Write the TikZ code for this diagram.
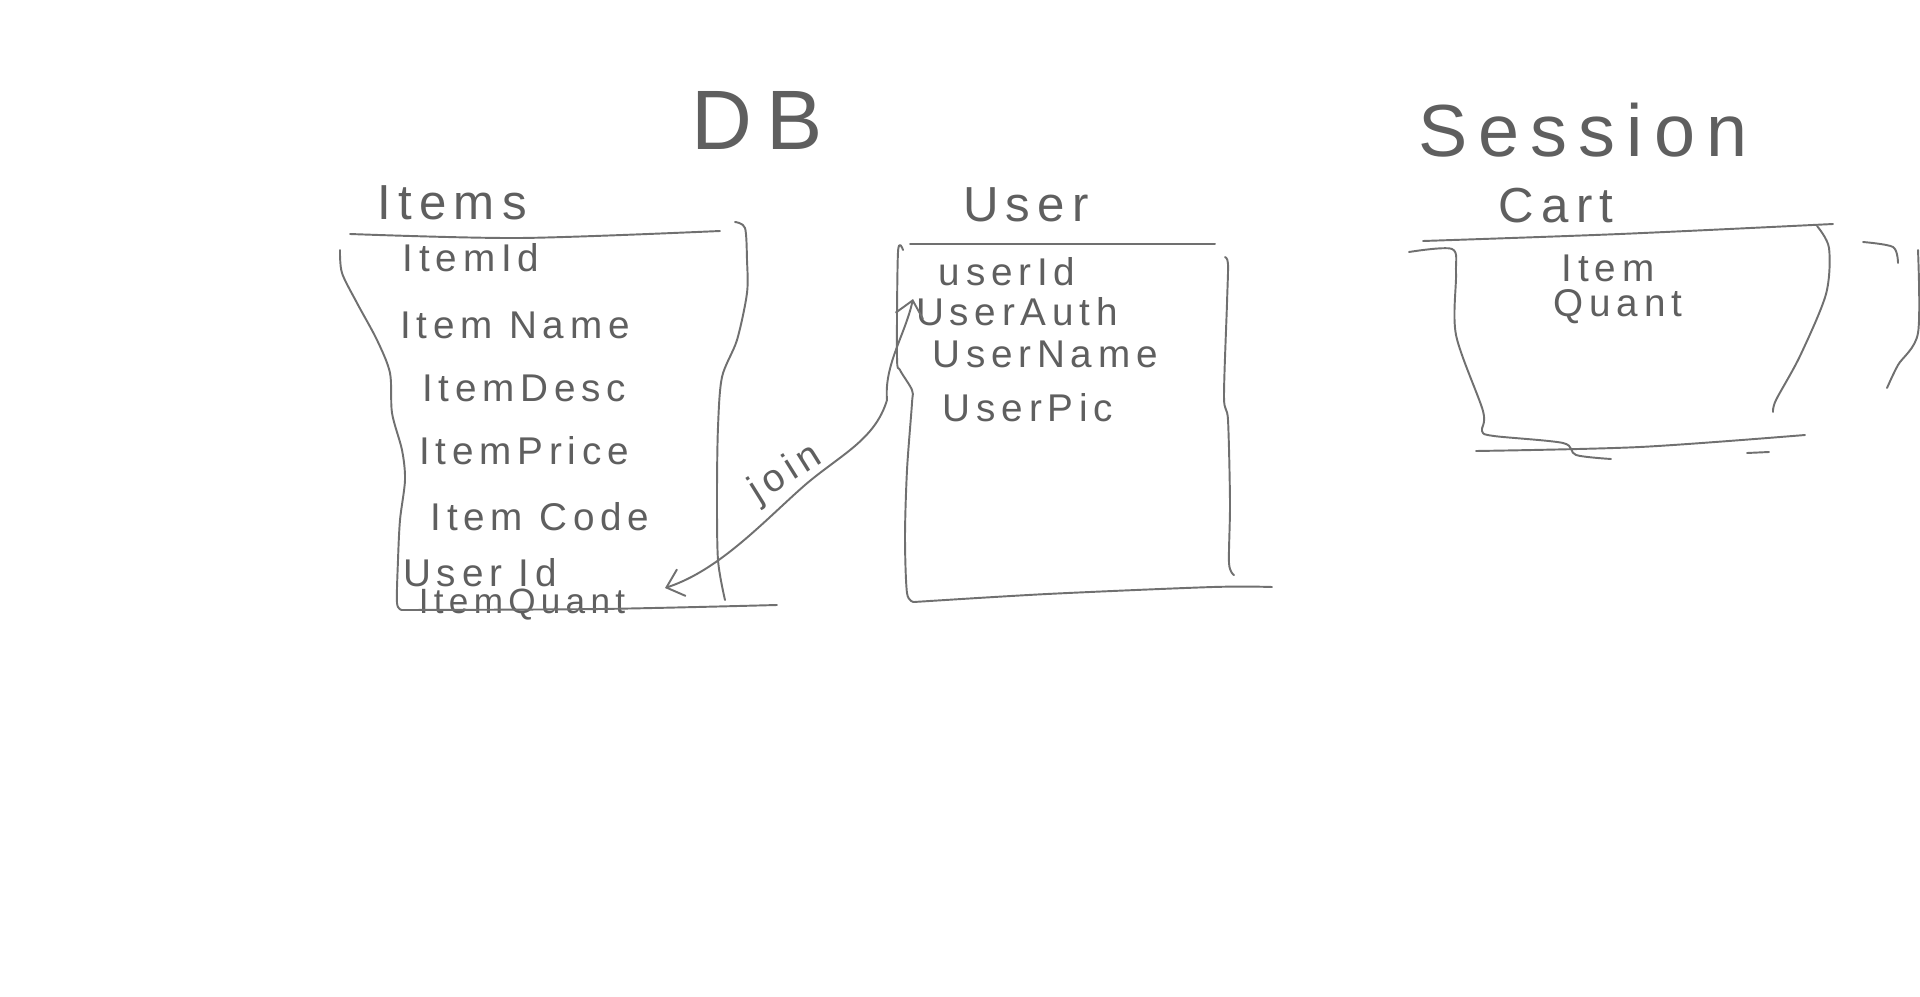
\documentclass[tikz,border=0pt]{standalone}
\usepackage{fontspec}
\newfontfamily\handfont[LetterSpace=15]{Liberation Sans}
\usetikzlibrary{arrows.meta}
\definecolor{ink}{RGB}{112,112,112}
\tikzset{
  pen/.style={draw=ink, line width=1.1pt, line cap=round, line join=round},
  lbl/.style={text=ink!85!black, inner sep=0pt, font=\handfont\fontsize{22}{24}\selectfont},
  head/.style={lbl, font=\handfont\fontsize{28}{30}\selectfont},
  big/.style={lbl, font=\handfont\fontsize{42}{44}\selectfont},
  barb/.tip={Straight Barb[length=9pt,width=16pt]},
}

\begin{document}
\begin{tikzpicture}[x=0.02cm,y=-0.02cm]
\fill[white] (0,0) rectangle (1920,997);
\useasboundingbox (0,0) rectangle (1920,997);
%\draw[gray!30] (0,0) grid[xstep=100,ystep=100] (1920,997);

% titles
\node[big, font=\handfont\fontsize{48}{50}\selectfont] (db) at (757,120) {D\,B};
\node[big] (session) at (1583,130) {Session};

% Items table
\node[head] (items) at (452,203) {Items};
\node[lbl] (iid) at (471,258) {ItemId};
\node[lbl] (iname) at (515,325) {Item Name};
\node[lbl] (idesc) at (524,388) {ItemDesc};
\node[lbl] (iprice) at (524,451) {ItemPrice};
\node[lbl] (icode) at (540,517) {Item Code};
\node[lbl] (iuid) at (480,573) {User Id};
\node[lbl, font=\handfont\fontsize{20}{22}\selectfont] (iquant) at (522,605) {ItemQuant};
\draw[pen] plot[smooth] coordinates {(350,234) (520,238) (720,231)};
\draw[pen] plot[smooth] coordinates {(340,250) (342,273) (357,303) (377,340) (390,373)
  (392,413) (402,450) (405,480) (400,520) (398,560) (397,603) (402,610)};
\draw[pen] plot[smooth] coordinates {(402,610) (600,609) (777,605)};
\draw[pen] plot[smooth] coordinates {(735,222) (745,228) (747,260) (747,293) (737,340)
  (722,377) (718,427) (717,493) (718,560) (725,600)};

% User table
\node[head] (user) at (1026,205) {User};
\node[lbl] (uid) at (1007,272) {userId};
\node[lbl] (uauth) at (1017,312) {UserAuth};
\node[lbl] (uname) at (1045,354) {UserName};
\node[lbl] (upic) at (1028,408) {UserPic};
\draw[pen] (910,244) -- (1215,244);
\draw[pen] plot[smooth] coordinates {(903,250) (898,252) (897,357) (900,370) (912,390)
  (912,403) (907,470) (905,537) (907,593) (914,602)};
\draw[pen] plot[smooth] coordinates {(914,602) (1047,594) (1213,587) (1272,587)};
\draw[pen] plot[smooth] coordinates {(1225,257) (1228,264) (1227,303) (1224,397) (1228,420)
  (1230,503) (1229,563) (1234,575)};

% join
\coordinate (jtop) at (913,299);
\coordinate (jend) at (665,588);
\draw[pen, barb-barb] (jtop) .. controls (905,335) and (884,365) .. (887,400)
  .. controls (875,440) and (840,455) .. (805,485)
  .. controls (765,520) and (720,570) .. (jend);
\node[lbl, rotate=32] (join) at (786,474) {join};

% Cart (session)
\node[head] (cart) at (1556,206) {Cart};
\node[lbl] (citem) at (1608,268) {Item};
\node[lbl] (cquant) at (1618,307) {Quant};
\draw[pen] plot[smooth] coordinates {(1423,241) (1620,234) (1833,224)};
\draw[pen] plot[smooth] coordinates {(1409,252) (1452,249) (1456,273) (1456,335) (1483,411)
  (1482,431) (1494,436) (1563,443) (1576,455) (1611,459)};
\draw[pen] plot[smooth] coordinates {(1476,451) (1640,447) (1805,435)};
\draw[pen] (1747,453) -- (1769,452);
\draw[pen] plot[smooth] coordinates {(1817,226) (1829,248) (1826,294) (1800,356) (1776,400) (1773,412)};
\draw[pen] plot[smooth] coordinates {(1863,242) (1893,247) (1898,263)};
\draw[pen] plot[smooth] coordinates {(1918,250) (1918,333) (1898,365) (1887,388)};
\end{tikzpicture}
\end{document}
